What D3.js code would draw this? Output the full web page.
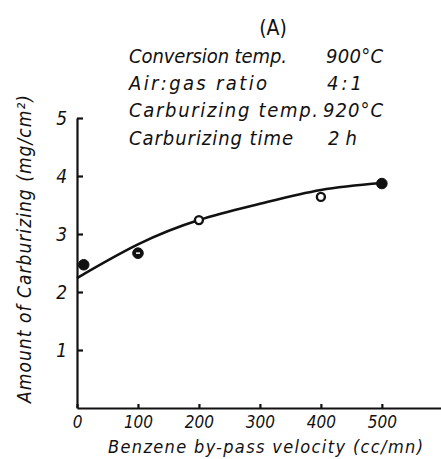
<!DOCTYPE html>
<html lang="en">
  <head>
    <meta charset="UTF-8" />
    <title>Carburizing</title>
    <style>
      body { margin: 0; background: #fff; }
      text { font-family: "DejaVu Sans Condensed", "Liberation Sans", sans-serif; font-style: italic; fill: #111; }
      .axis path, .axis line { stroke: #111; stroke-width: 2.2; fill: none; }
      .axis text { font-family: "DejaVu Sans Condensed", sans-serif; font-size: 17px; }
    </style>
  </head>
  <body>
    <div id="app"></div>
    <script src="https://cdn.jsdelivr.net/npm/d3@7/dist/d3.min.js"></script>
    <script>
      // measured points
      let velocity = [11, 100, 200, 400, 500];
      let amount = [2.47, 2.67, 3.24, 3.64, 3.87];
      let markerKind = ["filled", "dotted", "open", "open", "filled"];

      // hand-drawn fit curve
      let curveVelocity = [0, 100, 200, 300, 400, 500];
      let curveAmount = [2.24, 2.82, 3.24, 3.52, 3.76, 3.88];

      let xTicks = [0, 100, 200, 300, 400, 500];
      let yTicks = [1, 2, 3, 4, 5];

      let condLabels = ["Conversion temp.", "Air:gas ratio", "Carburizing temp.", "Carburizing time"];
      let condValues = ["900°C", "4:1", "920°C", "2h"];

      let width = 441;
      let height = 459;

      let x = d3.scaleLinear().domain([0, 597]).range([77, 441]);
      let y = d3.scaleLinear().domain([0, 5]).range([408, 118]);

      const svg = d3.select("#app").append("svg")
        .attr("width", width)
        .attr("height", height);

      // axes
      svg.append("g")
        .attr("class", "axis")
        .attr("transform", "translate(0,408)")
        .call(d3.axisBottom(x).tickValues(xTicks).tickSizeInner(-4).tickSizeOuter(0).tickPadding(8));

      svg.append("g")
        .attr("class", "axis")
        .attr("transform", "translate(77,0)")
        .call(d3.axisLeft(y).tickValues(yTicks).tickSizeInner(-6).tickSizeOuter(0).tickPadding(10)
          .tickFormat(d3.format("d")))
        .selectAll("text").style("font-size", "19px");

      // curve
      let line = d3.line()
        .x(function(d, i) { return x(curveVelocity[i]); })
        .y(function(d) { return y(d); })
        .curve(d3.curveNatural);

      svg.append("path")
        .datum(curveAmount)
        .attr("d", line)
        .attr("fill", "none")
        .attr("stroke", "#111")
        .attr("stroke-width", 2.6);

      // points
      let pts = svg.selectAll(".pt")
        .data(amount)
        .enter()
        .append("g")
        .attr("class", "pt")
        .attr("transform", function(d, i) { return "translate(" + x(velocity[i]) + "," + y(d) + ")"; });

      pts.append("circle")
        .attr("r", function(d, i) { return markerKind[i] === "open" ? 4 : 5.3; })
        .attr("fill", function(d, i) { return markerKind[i] === "open" ? "#fff" : "#111"; })
        .attr("stroke", "#111")
        .attr("stroke-width", function(d, i) { return markerKind[i] === "open" ? 2.4 : 1; });

      pts.filter(function(d, i) { return markerKind[i] === "dotted"; })
        .append("line")
        .attr("x1", -2).attr("x2", 2)
        .attr("stroke", "#fff")
        .attr("stroke-width", 1.5);

      // title and conditions
      svg.append("text")
        .attr("x", 273)
        .attr("y", 35)
        .attr("text-anchor", "middle")
        .style("font-size", "21px")
        .style("font-style", "normal")
        .text("(A)");

      let rowY = [63, 90, 117, 145];
      let labelW = [158, 138, 189, 164];
      let valueX = [326, 327, 323, 328];
      let valueW = [57, 35, 60, 29];

      svg.selectAll(".cond")
        .data(condLabels)
        .enter()
        .append("text")
        .attr("class", "cond")
        .attr("x", 129)
        .attr("y", function(d, i) { return rowY[i]; })
        .attr("textLength", function(d, i) { return labelW[i]; })
        .attr("lengthAdjust", "spacing")
        .style("font-size", "20px")
        .text(function(d) { return d; });

      svg.selectAll(".condv")
        .data(condValues)
        .enter()
        .append("text")
        .attr("class", "condv")
        .attr("x", function(d, i) { return valueX[i]; })
        .attr("y", function(d, i) { return rowY[i]; })
        .attr("textLength", function(d, i) { return valueW[i]; })
        .attr("lengthAdjust", "spacing")
        .style("font-size", "20px")
        .text(function(d) { return d; });

      // axis titles
      svg.append("text")
        .attr("x", 108)
        .attr("y", 453)
        .attr("textLength", 315)
        .attr("lengthAdjust", "spacing")
        .style("font-size", "18px")
        .text("Benzene  by-pass  velocity (cc/mn)");

      svg.append("text")
        .attr("transform", "translate(31,403) rotate(-90)")
        .attr("textLength", 308)
        .attr("lengthAdjust", "spacing")
        .style("font-size", "19px")
        .text("Amount of Carburizing (mg/cm²)");
    </script>
  </body>
</html>
